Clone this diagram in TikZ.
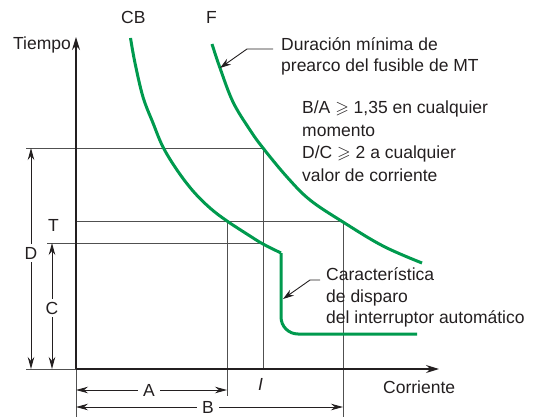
\documentclass[tikz,border=0pt]{standalone}
\usepackage{fontspec}
\setmainfont{Liberation Sans}
\usepackage{amssymb}
\usetikzlibrary{arrows.meta}
\definecolor{cgreen}{RGB}{0,154,78}
\definecolor{gline}{RGB}{80,80,80}
\definecolor{ink}{RGB}{35,31,32}
\begin{document}
\begin{tikzpicture}[x=1pt,y=-1pt,
  lbl/.style={font=\fontsize{17.5}{21}\selectfont, text=ink, inner sep=0pt, anchor=base west},
  dimlbl/.style={font=\fontsize{17.5}{21}\selectfont, text=ink, inner xsep=5pt, inner ysep=3pt},
  axisline/.style={line width=1.4pt, draw=ink, -{Stealth[length=13pt,width=8pt]}},
  guide/.style={line width=0.9pt, draw=gline},
  dimarrow/.style={line width=0.9pt, draw=ink, -{Stealth[length=12pt,width=6.5pt]}},
  curve/.style={line width=3pt, draw=cgreen, line join=round},
  pointer/.style={line width=0.9pt, draw=ink, -{Stealth[length=11pt,width=7pt]}}
]
\useasboundingbox (0,0) rectangle (534,417);

% key coordinates
\coordinate (O) at (76,369);
\coordinate (Ytop) at (76,37);
\coordinate (Xend) at (439,369);
\coordinate (Ybot) at (76,417);
\coordinate (Dtop) at (31,148);
\coordinate (Dbot) at (31,369);
\coordinate (Ctop) at (52,243);
\coordinate (Cbot) at (52,369);
\coordinate (Aleft) at (76,390);
\coordinate (Aright) at (227,390);
\coordinate (Bleft) at (76,407);
\coordinate (Bright) at (343,407);

% guide lines
\draw[guide] (26,148) -- (263,148) -- (263,369);
\draw[guide] (47,243) -- (263,243);
\draw[guide] (76,221) -- (343,221) -- (343,417);
\draw[guide] (227,221) -- (227,396);
\draw[guide] (26,369) -- (O);
\draw[guide] (O) -- (Ybot);

% axes
\draw[axisline] (O) -- (Ytop);
\draw[axisline] (O) -- (Xend);

% dimension labels and arrows
\node[dimlbl] (D) at (31,253) {D};
\node[dimlbl] (C) at (52,308) {C};
\node[dimlbl] (A) at (149,390) {A};
\node[dimlbl] (B) at (208,407) {B};
\draw[dimarrow] (D.north) -- (Dtop);
\draw[dimarrow] (D.south) -- (Dbot);
\draw[dimarrow] (C.north) -- (Ctop);
\draw[dimarrow] (C.south) -- (Cbot);
\draw[dimarrow] (A.west) -- (Aleft);
\draw[dimarrow] (A.east) -- (Aright);
\draw[dimarrow] (B.west) -- (Bleft);
\draw[dimarrow] (B.east) -- (Bright);

% texts
\node[lbl] (tiempo) at (13,50) {Tiempo};
\node[lbl] (corr) at (383,393) {Corriente};
\node[lbl] (cb) at (121,24) {CB};
\node[lbl] (f) at (206,24) {F};
\node[lbl] (T) at (48,231) {T};
\node[lbl] (I) at (258,390) {\itshape I};
\node[lbl] (dur1) at (281,51) {Duración mínima de};
\node[lbl] (dur2) at (281,72) {prearco del fusible de MT};
\node[lbl] (ba1) at (302,113) {B/A $\geqslant$ 1,35 en cualquier};
\node[lbl] (ba2) at (302,136) {momento};
\node[lbl] (ba3) at (302,158) {D/C $\geqslant$ 2 a cualquier};
\node[lbl] (ba4) at (302,181) {valor de corriente};
\node[lbl] (car1) at (326,280) {Característica};
\node[lbl] (car2) at (326,302) {de disparo};
\node[lbl] (car3) at (326,323) {del interruptor automático};

% curves
\draw[curve] plot[smooth, tension=0.6] coordinates {(130.5,38) (135,63) (143,97) (153,123) (163,147) (177,170) (193,191) (210,208) (227,221) (250,236) (263,244) (281,253)};
\draw[curve, rounded corners=17pt] (281,253) -- (281,334) -- (417,334);
\draw[curve] plot[smooth, tension=0.6] coordinates {(212,44) (220,68) (233,102) (250,130) (263,148) (287,177) (310,200) (343,222) (383,246) (422,263)};

% pointers
\coordinate (pF) at (220,68);
\coordinate (pCB) at (283,299);
\coordinate (kF) at (247,49);
\coordinate (kCB) at (310,280);
\draw[pointer] (273,49) -- (kF) -- (pF);
\draw[pointer] (320,280) -- (kCB) -- (pCB);
\end{tikzpicture}
\end{document}
